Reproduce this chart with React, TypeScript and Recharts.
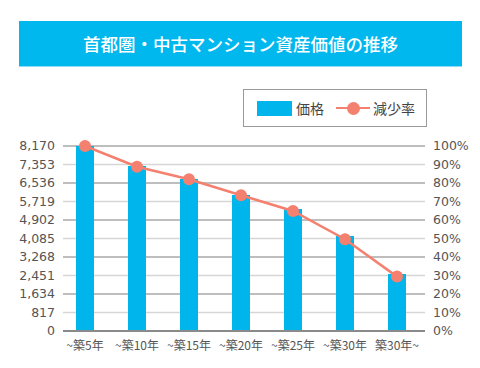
import React from "react";
import {
  Bar,
  CartesianGrid,
  ComposedChart,
  Line,
  XAxis,
  YAxis,
} from "recharts";

const categories = ["~築5年", "~築10年", "~築15年", "~築20年", "~築25年", "~築30年", "築30年~"];
const prices = [8170, 7290, 6710, 6010, 5390, 4190, 2520];
const rates = [100, 88.8, 82, 73.4, 64.9, 49.6, 29.4];
const priceTicks = [0, 817, 1634, 2451, 3268, 4085, 4902, 5719, 6536, 7353, 8170];
const rateTicks = [0, 10, 20, 30, 40, 50, 60, 70, 80, 90, 100];

const COLORS = {
  bar: "#00b5ec",
  line: "#f4806f",
  banner: "#00b8ee",
  gridDark: "#a9a9a9",
  gridLight: "#d6d6d6",
  axis: "#8a8a8a",
  text: "#555555",
} as const;

const FONT = '"Noto Sans CJK JP", "Noto Sans", sans-serif';
const NUM_FONT = '"DejaVu Sans", sans-serif';

const data = categories.map((name, i) => ({
  name,
  price: prices[i],
  rate: rates[i],
}));

function GridLine(props: any) {
  const { x1, x2, y1, y2, index } = props;
  if (index === 0) return <g key={props.key} />;
  return (
    <line
      key={props.key}
      x1={x1}
      x2={x2}
      y1={y1}
      y2={y2}
      stroke={index % 2 === 0 ? COLORS.gridDark : COLORS.gridLight}
      strokeWidth={1.5}
    />
  );
}

export default function App() {
  return (
    <div
      style={{
        position: "absolute",
        left: 0,
        top: 0,
        width: 480,
        height: 368,
        background: "#fff",
        fontFamily: FONT,
      }}
    >
      <ComposedChart
        width={480}
        height={368}
        data={data}
        margin={{ top: 146, right: 0, bottom: 0, left: 0 }}
      >
        <CartesianGrid
          yAxisId="left"
          vertical={false}
          horizontal={GridLine}
        />
        <XAxis
          dataKey="name"
          height={37}
          tickSize={0}
          tickMargin={10}
          interval={0}
          padding={{ left: -4, right: 2 }}
          axisLine={{ stroke: COLORS.axis, strokeWidth: 2 }}
          tick={{ fontSize: 12, fill: COLORS.text, fontFamily: FONT }}
        />
        <YAxis
          yAxisId="left"
          width={63}
          domain={[0, 8170]}
          ticks={priceTicks}
          interval={0}
          tickSize={0}
          tickMargin={8}
          axisLine={false}
          tickFormatter={(v: number) => v.toLocaleString("en-US")}
          tick={{ fontSize: 12.5, fill: COLORS.text, fontFamily: NUM_FONT }}
        />
        <YAxis
          yAxisId="right"
          orientation="right"
          width={55}
          domain={[0, 100]}
          ticks={rateTicks}
          interval={0}
          tickSize={0}
          tickMargin={8}
          axisLine={false}
          tickFormatter={(v: number) => `${v}%`}
          tick={{ fontSize: 12.5, fill: COLORS.text, fontFamily: NUM_FONT, textAnchor: "start" }}
        />
        <Bar
          yAxisId="left"
          dataKey="price"
          fill={COLORS.bar}
          barSize={18}
          isAnimationActive={false}
        />
        <Line
          yAxisId="right"
          dataKey="rate"
          stroke={COLORS.line}
          strokeWidth={2.5}
          dot={{ r: 6, fill: COLORS.line, stroke: COLORS.line, strokeWidth: 0 }}
          isAnimationActive={false}
        />
      </ComposedChart>

      {/* title banner */}
      <div
        style={{
          position: "absolute",
          left: 19,
          top: 21,
          width: 443,
          height: 46,
          background: COLORS.banner,
          borderBottom: "1px solid #8fdcf6",
          color: "#fff",
          fontSize: 17.5,
          fontWeight: 500,
          display: "flex",
          alignItems: "center",
          justifyContent: "center",
          boxSizing: "border-box",
        }}
      >
        首都圏・中古マンション資産価値の推移
      </div>

      {/* legend */}
      <div
        style={{
          position: "absolute",
          left: 243,
          top: 89,
          width: 184,
          height: 38,
          border: "1.5px solid #9a9a9a",
          boxSizing: "border-box",
          display: "flex",
          alignItems: "center",
          paddingLeft: 13,
          fontSize: 14,
          color: "#444",
        }}
      >
        <span style={{ display: "inline-block", width: 35, height: 15, background: COLORS.bar }} />
        <span style={{ marginLeft: 4 }}>価格</span>
        <span style={{ position: "relative", display: "inline-block", width: 34, height: 13, marginLeft: 12 }}>
          <span
            style={{
              position: "absolute",
              left: 0,
              top: 5,
              width: 34,
              height: 2.5,
              background: COLORS.line,
            }}
          />
          <span
            style={{
              position: "absolute",
              left: 11,
              top: 0,
              width: 13,
              height: 13,
              borderRadius: "50%",
              background: COLORS.line,
            }}
          />
        </span>
        <span style={{ marginLeft: 3 }}>減少率</span>
      </div>
    </div>
  );
}
